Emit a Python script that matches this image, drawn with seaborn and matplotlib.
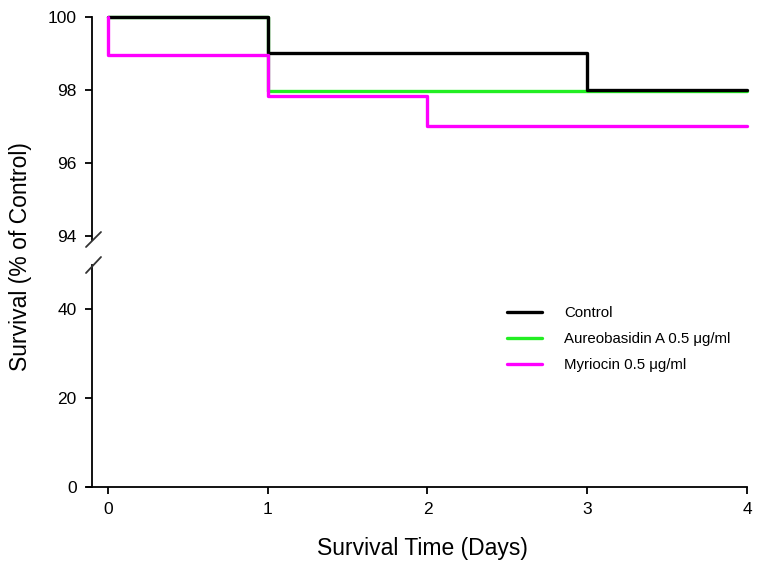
import pandas as pd
import matplotlib
matplotlib.use('Agg')
import matplotlib.pyplot as plt
import seaborn as sns

# dados das curvas de sobrevivência (degraus)
grupos = ['Control', 'Aureobasidin A 0.5 \u03bcg/ml', 'Myriocin 0.5 \u03bcg/ml']
dias_control = [0, 1, 3, 4]
sobrev_control = [100, 99.0, 98.0, 98.0]
dias_aureo = [0, 1, 4]
sobrev_aureo = [100, 97.97, 97.97]
dias_myrio = [0, 0, 1, 2, 4]
sobrev_myrio = [100, 98.95, 97.83, 97.0, 97.0]
cores = {grupos[0]: 'black', grupos[1]: '#22ee22', grupos[2]: '#ff00ff'}

yticks_topo = [94, 96, 98, 100]
yticks_base = [0, 20, 40]
xticks = [0, 1, 2, 3, 4]

curvas = {
    grupos[0]: pd.DataFrame({'dia': dias_control, 'sobrev': sobrev_control}),
    grupos[1]: pd.DataFrame({'dia': dias_aureo, 'sobrev': sobrev_aureo}),
    grupos[2]: pd.DataFrame({'dia': dias_myrio, 'sobrev': sobrev_myrio}),
}

sns.set_style('white')
plt.rcParams['font.family'] = ['Liberation Sans', 'DejaVu Sans']
plt.rcParams['text.color'] = 'black'
plt.rcParams['xtick.color'] = 'black'
plt.rcParams['ytick.color'] = 'black'
plt.rcParams['axes.edgecolor'] = 'black'

fig = plt.figure(figsize=(7.57, 5.71), dpi=100)
esq, dir_ = 92 / 757, 747 / 757
ax_top = fig.add_axes([esq, 1 - 240 / 571, dir_ - esq, (240 - 17) / 571])
ax_bot = fig.add_axes([esq, 1 - 487 / 571, dir_ - esq, (487 - 265) / 571])

ordem = [grupos[1], grupos[0], grupos[2]]  # verde embaixo, magenta por cima
handles = {}
for ax in (ax_top, ax_bot):
    for g in ordem:
        sns.lineplot(data=curvas[g], x='dia', y='sobrev', color=cores[g],
                     estimator=None, sort=False, drawstyle='steps-post',
                     linewidth=2.4, ax=ax)
        ln = ax.lines[-1]
        if ax is ax_top:
            ln.set_clip_on(False)  # linha do 100 fica na borda
        handles[g] = ln
    ax.set_xlim(-0.1, 4)
    ax.set_xlabel('')
    ax.set_ylabel('')
    for s in ('top', 'right'):
        ax.spines[s].set_visible(False)
    ax.spines['left'].set_linewidth(1.3)
    ax.spines['bottom'].set_linewidth(1.3)
    ax.tick_params(axis='both', direction='out', length=5, width=1.3, labelsize=12.5,
                   left=True, bottom=True, pad=6)

ax_top.set_ylim(94 - 4 / 36.5, 100)
ax_top.set_yticks(yticks_topo)
ax_top.spines['bottom'].set_visible(False)
ax_top.tick_params(axis='x', bottom=False, labelbottom=False)

ax_bot.set_ylim(0, 50)
ax_bot.set_yticks(yticks_base)
ax_bot.set_xticks(xticks)
ax_bot.spines['bottom'].set_bounds(-0.13, 4)

# marcas de quebra do eixo
for y0, y1 in ((247, 232), (273, 257)):
    fig.add_artist(plt.Line2D([86 / 757, 101 / 757], [1 - y0 / 571, 1 - y1 / 571],
                              transform=fig.transFigure, color='#333333', linewidth=1.3))

ax_bot.legend([handles[g] for g in grupos], grupos, loc='upper left',
              bbox_to_anchor=(507 / 757, 1 - 306 / 571), bbox_transform=fig.transFigure,
              frameon=False, fontsize=10.8, handlelength=2.3, handletextpad=1.5,
              labelspacing=0.8, borderpad=0, borderaxespad=0)

fig.text(422 / 757, 1 - 549 / 571, 'Survival Time (Days)', ha='center', va='center', fontsize=16.5)
fig.text(21 / 757, 1 - 257 / 571, 'Survival (% of Control)', ha='center', va='center',
         rotation=90, fontsize=16.5)

fig.savefig('out.png', dpi=100)
